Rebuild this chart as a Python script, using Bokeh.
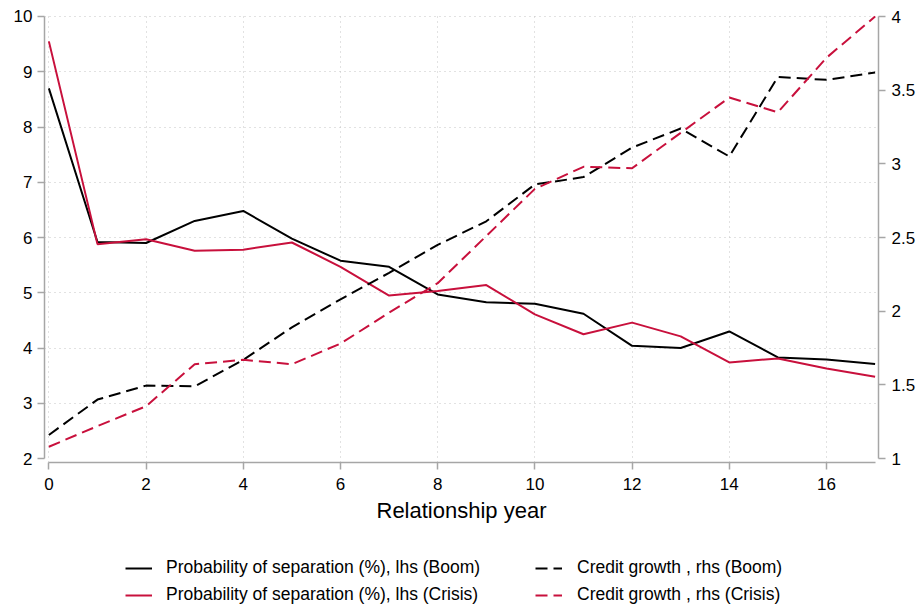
from bokeh.plotting import figure
from bokeh.layouts import column
from bokeh.models import (Range1d, LinearAxis, FixedTicker, NumeralTickFormatter,
                          Legend, LegendItem)
from bokeh.embed import file_html
from bokeh.resources import INLINE

# ---- data ----
years = list(range(18))
sep_boom = [8.70, 5.92, 5.90, 6.30, 6.48, 5.98, 5.58, 5.47, 4.97, 4.83, 4.80, 4.62,
            4.04, 4.00, 4.30, 3.83, 3.79, 3.71]
sep_crisis = [9.55, 5.88, 5.97, 5.76, 5.78, 5.91, 5.47, 4.95, 5.03, 5.14, 4.61, 4.25,
              4.46, 4.21, 3.74, 3.81, 3.63, 3.48]
credit_boom = [1.16, 1.40, 1.495, 1.49, 1.67, 1.89, 2.08, 2.26, 2.45, 2.61, 2.86, 2.91,
               3.11, 3.24, 3.05, 3.59, 3.57, 3.62]
credit_crisis = [1.08, 1.22, 1.355, 1.64, 1.67, 1.64, 1.78, 1.99, 2.19, 2.51, 2.83, 2.98,
                 2.97, 3.21, 3.45, 3.35, 3.72, 4.00]

x_ticks = [0, 2, 4, 6, 8, 10, 12, 14, 16]
lhs_ticks = [2, 3, 4, 5, 6, 7, 8, 9, 10]
rhs_ticks = [1, 1.5, 2, 2.5, 3, 3.5, 4]

labels = ["Probability of separation (%), lhs (Boom)",
          "Probability of separation (%), lhs (Crisis)",
          "Credit growth , rhs (Boom)",
          "Credit growth , rhs (Crisis)"]

FONT = "Liberation Sans"
BLACK = "#000000"
RED = "#c8103c"
AXIS_GREY = "#a6a6a6"
GRID_GREY = "#c4c4c4"
DASH = "12 6"

# ---------------- main chart ----------------
p = figure(width=923, height=540, output_backend="svg", toolbar_location=None,
           x_range=Range1d(-0.09, 17.07), y_range=Range1d(1.928, 10.018),
           min_border_left=44, min_border_right=45, min_border_top=15,
           min_border_bottom=78, x_axis_location="below")
p.extra_y_ranges = {"rhs": Range1d(0.973, 4.0068)}
p.outline_line_color = None
p.background_fill_color = "white"
p.border_fill_color = "white"


def style_axis(ax, standoff):
    ax.axis_line_color = AXIS_GREY
    ax.axis_line_width = 1.5
    ax.major_tick_line_color = AXIS_GREY
    ax.major_tick_line_width = 1.5
    ax.major_tick_out = 7
    ax.major_tick_in = 0
    ax.minor_tick_line_color = None
    ax.major_label_text_font = FONT
    ax.major_label_text_font_size = "17px"
    ax.major_label_text_color = "black"
    ax.major_label_standoff = standoff


xa = p.xaxis[0]
style_axis(xa, 8)
xa.ticker = FixedTicker(ticks=x_ticks)
xa.bounds = (0, 17)
xa.axis_label = "Relationship year"
xa.axis_label_text_font = FONT
xa.axis_label_text_font_size = "22px"
xa.axis_label_text_font_style = "normal"
xa.axis_label_text_color = "black"
xa.axis_label_standoff = 5

ya = p.yaxis[0]
style_axis(ya, 5)
ya.ticker = FixedTicker(ticks=lhs_ticks)
ya.bounds = (2, 10)

ra = LinearAxis(y_range_name="rhs")
style_axis(ra, 6)
ra.ticker = FixedTicker(ticks=rhs_ticks)
ra.formatter = NumeralTickFormatter(format="0.[0]")
ra.bounds = (1, 4)
p.add_layout(ra, "right")

p.xgrid.ticker = FixedTicker(ticks=x_ticks)
p.ygrid.ticker = FixedTicker(ticks=lhs_ticks[1:])
for g in (p.xgrid[0], p.ygrid[0]):
    g.grid_line_color = GRID_GREY
    g.grid_line_dash = "1 4"
    g.grid_line_width = 1

p.line(years, sep_boom, line_color=BLACK, line_width=2)
p.line(years, sep_crisis, line_color=RED, line_width=2)
p.line(years, credit_boom, line_color=BLACK, line_width=2, line_dash=DASH,
       y_range_name="rhs")
p.line(years, credit_crisis, line_color=RED, line_width=2, line_dash=DASH,
       y_range_name="rhs")

# ---------------- legend strip ----------------
lg = figure(width=923, height=66, output_backend="svg", toolbar_location=None,
            x_range=Range1d(0, 1), y_range=Range1d(0, 1),
            x_axis_type=None, y_axis_type=None, min_border=0)
lg.outline_line_color = None
lg.xgrid.visible = False
lg.ygrid.visible = False
# off-screen key renderers: they only supply the legend swatches
off_x = [-10, -9]
off_y = [-10, -9]
k1 = lg.line(off_x, off_y, line_color=BLACK, line_width=2)
k2 = lg.line(off_x, off_y, line_color=RED, line_width=2)
k3 = lg.line(off_x, off_y, line_color=BLACK, line_width=2, line_dash=DASH)
k4 = lg.line(off_x, off_y, line_color=RED, line_width=2, line_dash=DASH)


def make_legend(items, loc, standoff):
    leg = Legend(items=items, location=loc, orientation="vertical")
    leg.border_line_color = None
    leg.background_fill_alpha = 0
    leg.padding = 0
    leg.margin = 0
    leg.spacing = 6
    leg.glyph_width = 27
    leg.glyph_height = 20
    leg.label_height = 20
    leg.label_standoff = standoff
    leg.label_text_font = FONT
    leg.label_text_font_size = "17.5px"
    leg.label_text_color = "black"
    return leg


lg.add_layout(make_legend([LegendItem(label=labels[0], renderers=[k1]),
                           LegendItem(label=labels[1], renderers=[k2])],
                          (81, 0.8), 14), "center")
lg.add_layout(make_legend([LegendItem(label=labels[2], renderers=[k3]),
                           LegendItem(label=labels[3], renderers=[k4])],
                          (491, 0.8), 15), "center")

layout = column(p, lg, spacing=0)
open("out.html", "w").write(file_html(layout, INLINE))
